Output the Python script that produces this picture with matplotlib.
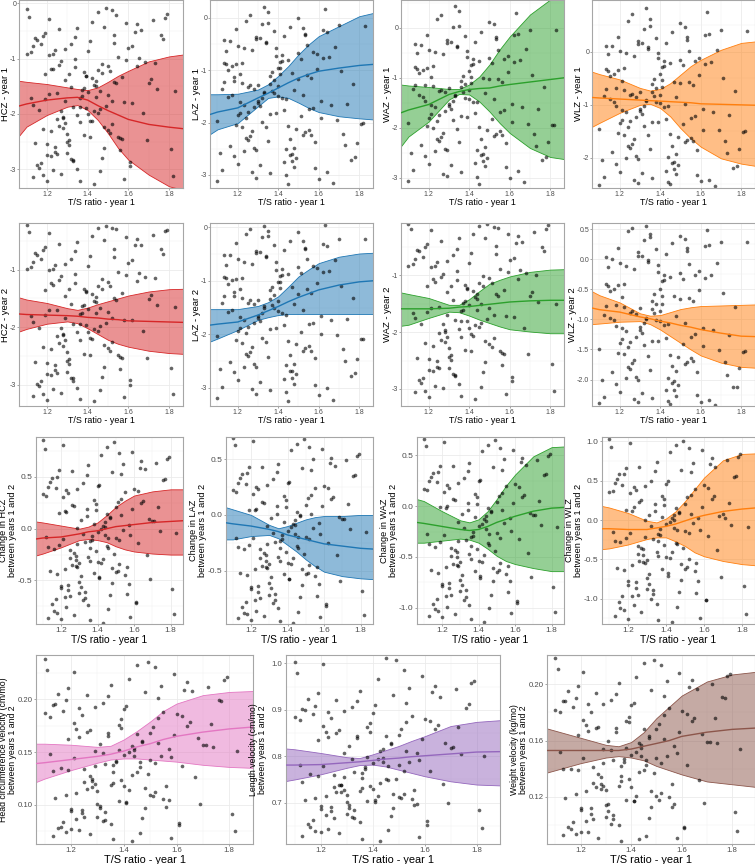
import matplotlib
matplotlib.use("Agg")
import matplotlib.pyplot as plt
from matplotlib import font_manager
from matplotlib.colors import to_rgba
from matplotlib.ticker import AutoMinorLocator, FormatStrFormatter

plt.rcParams['font.family'] = ['Liberation Sans', 'DejaVu Sans']
plt.rcParams['axes.unicode_minus'] = False

# T/S ratio, year 1 (same children in every panel)
ts_ratio = [
    1.12, 1.35, 1.48, 1.22, 1.61, 1.29, 1.43, 1.18, 1.52, 1.74,
    1.27, 1.39, 1.15, 1.56, 1.33, 1.21, 1.47, 1.68, 1.25, 1.41,
    1.10, 1.36, 1.53, 1.19, 1.30, 1.45, 1.79, 1.24, 1.38, 1.58,
    1.14, 1.32, 1.50, 1.23, 1.64, 1.28, 1.44, 1.17, 1.55, 1.37,
    1.26, 1.49, 1.71, 1.20, 1.34, 1.46, 1.13, 1.59, 1.31, 1.42,
    1.83, 1.22, 1.40, 1.51, 1.16, 1.66, 1.29, 1.36, 1.47, 1.24,
    1.11, 1.54, 1.33, 1.62, 1.27, 1.43, 1.19, 1.76, 1.38, 1.50,
    1.21, 1.35, 1.57, 1.30, 1.45, 1.13, 1.69, 1.26, 1.41, 1.52,
    1.18, 1.32, 1.48, 1.81, 1.23, 1.39, 1.60, 1.15, 1.44, 1.28,
    1.53, 1.36, 1.20, 1.65, 1.31, 1.46, 1.72, 1.25, 1.40, 1.12,
    1.55, 1.34, 1.49, 1.22, 1.63, 1.29, 1.42, 1.17, 1.58, 1.37,
    1.27, 1.51, 1.78, 1.19, 1.33, 1.45, 1.14, 1.67, 1.30, 1.43,
    1.24, 1.56, 1.39, 1.10, 1.48, 1.62, 1.26, 1.35, 1.73, 1.21,
    1.41, 1.53, 1.16, 1.32, 1.47, 1.59, 1.28, 1.38, 1.82, 1.23,
    1.44, 1.50, 1.18, 1.64, 1.31, 1.36, 1.54, 1.25, 1.70, 1.40,
    1.13, 1.46, 1.57, 1.20, 1.34, 1.77, 1.29, 1.42, 1.61, 1.52,
]

hcz1 = [
    -1.72, -0.45, -2.61, -1.18, -2.95, -0.83, -1.94, -2.27, -0.12, -1.55,
    -3.08, -1.31, -0.67, -2.44, -1.87, -0.28, -2.79, -1.06, -1.63, -2.12,
    -0.91, -3.21, -1.42, -0.54, -2.36, -1.98, -0.19, -2.68, -1.25, -1.79,
    -2.53, -0.73, -1.14, -3.02, -0.38, -2.05, -1.49, -2.88, -0.97, -1.68,
    -2.21, -0.08, -1.37, -2.74, -0.61, -1.91, -3.15, -1.02, -2.48, -0.33,
    -1.58, -2.31, -0.86, -1.23, -2.97, -0.49, -1.76, -2.15, -1.09, -2.59,
    -0.24, -1.45, -2.83, -0.77, -1.95, -3.26, -1.28, -0.58, -2.39, -1.66,
    -0.94, -2.02, -1.34, -2.71, -0.16, -1.83, -2.47, -1.11, -0.69, -2.18,
    -3.11, -1.52, -0.42, -2.63, -1.19, -1.89, -0.81, -2.92, -1.41, -2.26,
    -0.57, -1.71, -2.55, -0.99, -1.27, -3.04, -0.31, -2.09, -1.61, -0.88,
    -2.42, -1.16, -1.85, -2.77, -0.51, -1.38, -2.13, -0.74, -3.18, -1.57,
    -1.04, -2.34, -0.26, -1.73, -2.86, -1.21, -0.63, -1.99, -2.51, -1.47,
    -0.85, -2.66, -1.32, -0.11, -2.24, -1.81, -0.47, -2.99, -1.08, -1.64,
    -2.41, -0.71, -1.93, -2.81, -1.26, -0.36, -2.07, -1.54, -3.12, -0.92,
    -1.69, -2.29, -0.59, -1.13, -2.57, -1.88, -0.21, -2.72, -1.44, -2.01,
    -0.78, -1.59, -2.46, -3.22, -1.01, -0.65, -2.16, -1.35, -2.87, -1.77,
]
laz1 = [
    -1.35, 0.12, -2.48, -0.87, -1.92, -0.41, -2.76, -1.13, -0.19, -1.64,
    -2.95, -0.72, -1.51, -2.23, 0.21, -1.08, -2.61, -0.55, -1.79, -0.96,
    -3.12, -1.27, -0.33, -2.04, -1.58, -0.81, -2.39, -0.06, -1.44, -2.87,
    -0.63, -1.99, -1.17, -2.55, -0.28, -1.71, -3.01, -0.92, -2.14, -1.39,
    0.05, -2.68, -1.02, -1.86, -0.47, -2.31, -1.22, -0.69, -2.82, -1.53,
    -0.15, -2.09, -1.31, -0.78, -2.44, -1.67, -0.37, -2.97, -1.05, -1.91,
    -2.58, -0.52, -1.43, -0.24, -2.17, -1.76, -0.89, -2.71, -1.19, -0.01,
    -1.61, -2.35, -0.66, -1.28, -3.18, -0.43, -1.95, -2.26, -0.84, -1.48,
    -2.63, -0.11, -1.37, -2.02, -0.58, -1.82, -3.07, -0.99, -1.56, -2.49,
    -0.31, -1.11, -2.79, -0.74, -1.69, -0.18, -2.21, -1.33, -0.95, -2.91,
    -1.74, -0.49, -2.12, -1.25, 0.16, -2.53, -0.82, -1.47, -2.37, -1.03,
    -0.61, -1.88, -2.66, -0.22, -1.41, -2.06, -0.88, -3.15, -1.62, -0.35,
    -2.29, -1.15, -0.57, -1.97, -2.85, -0.76, -1.29, -0.09, -2.42, -1.81,
    -1.07, -2.18, -0.45, -1.54, -2.73, -0.98, -1.36, -0.26, -2.01, -1.66,
    -2.51, -0.68, -1.21, -2.94, -0.39, -1.84, -1.09, -2.33, -0.14, -1.49,
    -0.86, -2.62, -1.72, -0.53, -2.08, -1.26, -3.05, -0.71, -1.59, -2.24,
]
waz1 = [
    -1.21, 0.34, -2.37, -0.76, -1.88, -0.29, -2.69, -1.45, 0.08, -1.62,
    -2.91, -0.58, -1.33, -2.14, 0.45, -0.97, -2.52, -0.41, -1.74, -1.09,
    -3.05, -1.18, -0.17, -1.96, -1.51, -0.66, -2.28, 0.19, -1.39, -2.78,
    -0.49, -1.83, -1.02, -2.46, -0.11, -1.66, -2.97, -0.84, -2.06, -1.27,
    0.27, -2.59, -0.93, -1.79, -0.36, -2.22, -1.14, -0.55, -2.74, -1.48,
    -0.04, -1.99, -1.24, -0.69, -2.33, -1.57, -0.24, -2.88, -0.99, -1.85,
    -2.49, -0.43, -1.36, -0.13, -2.09, -1.69, -0.79, -2.63, -1.12, 0.12,
    -1.53, -2.27, -0.61, -1.19, -3.11, -0.32, -1.91, -2.18, -0.73, -1.42,
    -2.56, 0.02, -1.29, -1.94, -0.47, -1.77, -2.99, -0.89, -1.47, -2.41,
    -0.21, -1.05, -2.71, -0.64, -1.61, -0.07, -2.12, -1.26, -0.86, -2.83,
    -1.67, -0.38, -2.04, -1.16, 0.31, -2.44, -0.71, -1.38, -2.29, -0.95,
    -0.52, -1.81, -2.58, -0.14, -1.34, -1.98, -0.81, -3.08, -1.55, -0.27,
    -2.21, -1.07, -0.46, -1.89, -2.76, -0.67, -1.23, 0.05, -2.35, -1.72,
    -0.98, -2.11, -0.34, -1.46, -2.65, -0.88, -1.28, -0.16, -1.93, -1.58,
    -2.43, -0.59, -1.13, -2.86, -0.28, -1.76, -1.01, -2.25, -0.03, -1.41,
    -0.77, -2.54, -1.64, -0.44, -2.01, -1.17, -2.96, -0.62, -1.52, -2.16,
]
wlz1 = [
    -0.84, 0.62, -1.93, -0.31, -1.47, 0.15, -2.24, -1.02, 0.47, -1.19,
    -2.41, -0.12, -0.89, -1.68, 0.83, -0.55, -2.07, 0.04, -1.31, -0.66,
    -2.52, -0.76, 0.28, -1.53, -1.07, -0.21, -1.84, 0.58, -0.95, -2.33,
    -0.04, -1.39, -0.59, -2.01, 0.33, -1.23, -2.46, -0.41, -1.62, -0.83,
    0.71, -2.14, -0.49, -1.35, 0.09, -1.78, -0.71, -0.11, -2.29, -1.04,
    0.39, -1.56, -0.81, -0.25, -1.89, -1.13, 0.21, -2.38, -0.56, -1.42,
    -2.04, 0.01, -0.92, 0.32, -1.65, -1.26, -0.35, -2.19, -0.68, 0.55,
    -1.09, -1.83, -0.17, -0.75, -2.49, 0.12, -1.48, -1.74, -0.29, -0.99,
    -2.12, 0.44, -0.86, -1.51, -0.03, -1.33, -2.43, -0.45, -1.03, -1.97,
    0.23, -0.61, -2.27, -0.19, -1.18, 0.37, -1.69, -0.82, -0.42, -2.36,
    -1.24, 0.06, -1.61, -0.72, 0.76, -2.02, -0.27, -0.94, -1.86, -0.51,
    -0.08, -1.37, -2.15, 0.29, -0.91, -1.55, -0.37, -2.54, -1.11, 0.17,
    -1.77, -0.63, -0.02, -1.45, -2.31, -0.23, -0.79, 0.49, -1.91, -1.28,
    -0.54, -1.67, 0.11, -1.02, -2.21, -0.44, -0.85, 0.26, -1.49, -1.14,
    -1.99, -0.15, -0.69, -2.42, 0.16, -1.32, -0.57, -1.81, 0.42, -0.97,
    -0.33, -2.09, -1.21, 0.02, -1.57, -0.73, -2.47, -0.18, -1.08, -1.71,
]
hcz2 = [
    -1.81, -0.52, -2.69, -1.24, -3.01, -0.91, -2.03, -2.35, -0.28, -1.62,
    -3.14, -1.39, -0.74, -2.51, -1.95, -0.37, -2.86, -1.13, -1.71, -2.19,
    -0.99, -3.25, -1.49, -0.61, -2.43, -2.06, -0.31, -2.75, -1.33, -1.87,
    -2.61, -0.81, -1.21, -3.07, -0.47, -2.12, -1.56, -2.94, -1.04, -1.76,
    -2.28, -0.25, -1.44, -2.81, -0.68, -1.98, -3.19, -1.09, -2.55, -0.42,
    -1.65, -2.38, -0.93, -1.29, -3.03, -0.57, -1.84, -2.22, -1.16, -2.66,
    -0.34, -1.52, -2.89, -0.84, -2.01, -3.28, -1.35, -0.65, -2.46, -1.73,
    -1.01, -2.09, -1.41, -2.78, -0.27, -1.91, -2.54, -1.18, -0.77, -2.25,
    -3.16, -1.59, -0.49, -2.71, -1.26, -1.96, -0.88, -2.99, -1.48, -2.33,
    -0.64, -1.78, -2.62, -1.06, -1.34, -3.09, -0.39, -2.16, -1.68, -0.95,
    -2.49, -1.23, -1.92, -2.84, -0.58, -1.45, -2.21, -0.82, -3.22, -1.64,
    -1.11, -2.41, -0.33, -1.79, -2.93, -1.28, -0.71, -2.07, -2.58, -1.54,
    -0.92, -2.73, -1.38, -0.22, -2.31, -1.88, -0.55, -3.05, -1.15, -1.71,
    -2.48, -0.78, -2.01, -2.88, -1.33, -0.44, -2.14, -1.61, -3.17, -0.99,
    -1.76, -2.36, -0.66, -1.19, -2.64, -1.94, -0.29, -2.79, -1.51, -2.08,
    -0.86, -1.66, -2.53, -3.27, -1.08, -0.73, -2.23, -1.42, -2.92, -1.84,
]
laz2 = [
    -1.42, -0.07, -2.55, -0.94, -1.99, -0.48, -2.83, -1.21, -0.26, -1.71,
    -3.02, -0.79, -1.58, -2.31, 0.02, -1.15, -2.68, -0.62, -1.86, -1.03,
    -3.19, -1.34, -0.41, -2.11, -1.65, -0.88, -2.46, -0.13, -1.51, -2.94,
    -0.71, -2.06, -1.24, -2.62, -0.35, -1.78, -3.08, -0.99, -2.21, -1.46,
    -0.04, -2.75, -1.09, -1.93, -0.54, -2.38, -1.29, -0.76, -2.89, -1.61,
    -0.22, -2.16, -1.38, -0.85, -2.51, -1.74, -0.44, -3.04, -1.12, -1.98,
    -2.65, -0.59, -1.51, -0.31, -2.24, -1.83, -0.96, -2.78, -1.26, -0.09,
    -1.68, -2.42, -0.73, -1.35, -3.25, -0.51, -2.02, -2.33, -0.91, -1.55,
    -2.71, -0.18, -1.44, -2.09, -0.65, -1.89, -3.14, -1.06, -1.63, -2.56,
    -0.38, -1.18, -2.86, -0.81, -1.76, -0.25, -2.28, -1.41, -1.02, -2.98,
    -1.81, -0.56, -2.19, -1.32, 0.04, -2.61, -0.89, -1.54, -2.44, -1.11,
    -0.68, -1.95, -2.73, -0.29, -1.48, -2.13, -0.95, -3.22, -1.69, -0.42,
    -2.36, -1.22, -0.64, -2.04, -2.92, -0.83, -1.36, -0.16, -2.49, -1.88,
    -1.14, -2.25, -0.52, -1.61, -2.81, -1.05, -1.43, -0.33, -2.08, -1.73,
    -2.58, -0.75, -1.28, -3.01, -0.46, -1.91, -1.16, -2.41, -0.21, -1.56,
    -0.93, -2.69, -1.79, -0.60, -2.15, -1.33, -3.12, -0.78, -1.66, -2.31,
]
waz2 = [
    -1.66, -0.35, -2.52, -1.07, -2.86, -0.74, -1.88, -2.19, -0.15, -1.47,
    -2.99, -1.22, -0.58, -2.36, -1.79, -0.21, -2.71, -0.96, -1.55, -2.04,
    -0.83, -3.12, -1.33, -0.45, -2.28, -1.91, -0.12, -2.61, -1.17, -1.72,
    -2.46, -0.65, -1.05, -2.94, -0.31, -1.97, -1.41, -2.81, -0.89, -1.61,
    -2.13, -0.10, -1.29, -2.67, -0.53, -1.84, -3.06, -0.94, -2.41, -0.27,
    -1.51, -2.24, -0.78, -1.14, -2.89, -0.41, -1.69, -2.08, -1.01, -2.51,
    -0.18, -1.37, -2.76, -0.69, -1.86, -3.18, -1.19, -0.50, -2.32, -1.58,
    -0.86, -1.94, -1.26, -2.63, -0.13, -1.76, -2.39, -1.03, -0.61, -2.11,
    -3.03, -1.44, -0.34, -2.56, -1.11, -1.81, -0.73, -2.84, -1.33, -2.18,
    -0.49, -1.63, -2.47, -0.91, -1.19, -2.97, -0.24, -2.01, -1.53, -0.80,
    -2.34, -1.08, -1.77, -2.69, -0.43, -1.30, -2.06, -0.67, -3.09, -1.49,
    -0.97, -2.26, -0.19, -1.64, -2.78, -1.13, -0.56, -1.92, -2.43, -1.39,
    -0.77, -2.58, -1.24, -0.09, -2.16, -1.73, -0.39, -2.91, -1.00, -1.57,
    -2.33, -0.63, -1.86, -2.73, -1.18, -0.28, -1.99, -1.46, -3.04, -0.84,
    -1.61, -2.21, -0.51, -1.06, -2.49, -1.80, -0.16, -2.64, -1.36, -1.93,
    -0.71, -1.51, -2.38, -3.14, -0.93, -0.57, -2.09, -1.27, -2.79, -1.69,
]
wlz2 = [
    -0.93, 0.41, -1.86, -0.42, -1.44, 0.05, -2.17, -1.11, 0.33, -1.26,
    -2.33, -0.21, -0.97, -1.69, 0.55, -0.63, -2.02, -0.06, -1.37, -0.74,
    -2.39, -0.83, 0.18, -1.56, -1.13, -0.29, -1.81, 0.47, -1.01, -2.26,
    -0.13, -1.43, -0.67, -1.98, 0.24, -1.29, -2.36, -0.49, -1.64, -0.89,
    0.52, -2.09, -0.57, -1.39, -0.01, -1.77, -0.78, -0.19, -2.22, -1.09,
    0.29, -1.58, -0.87, -0.33, -1.88, -1.17, 0.12, -2.31, -0.62, -1.46,
    -2.01, -0.08, -0.99, 0.22, -1.67, -1.31, -0.43, -2.13, -0.74, 0.38,
    -1.14, -1.84, -0.26, -0.82, -2.41, 0.03, -1.51, -1.73, -0.37, -1.06,
    -2.08, 0.31, -0.94, -1.54, -0.11, -1.36, -2.37, -0.53, -1.08, -1.96,
    0.14, -0.69, -2.21, -0.27, -1.23, 0.26, -1.71, -0.89, -0.49, -2.29,
    -1.29, -0.04, -1.63, -0.79, 0.49, -2.01, -0.35, -1.01, -1.87, -0.58,
    -0.16, -1.41, -2.12, 0.19, -0.98, -1.59, -0.45, -2.42, -1.17, 0.08,
    -1.79, -0.69, -0.09, -1.49, -2.27, -0.31, -0.86, 0.36, -1.92, -1.32,
    -0.61, -1.71, 0.01, -1.06, -2.18, -0.52, -0.91, 0.16, -1.53, -1.19,
    -1.97, -0.23, -0.76, -2.34, 0.06, -1.36, -0.64, -1.83, 0.28, -1.03,
    -0.41, -2.06, -1.25, -0.07, -1.61, -0.79, -2.38, -0.26, -1.15, -1.74,
]
d_hcz = [
    -0.08, 0.61, -0.52, 0.17, -0.71, 0.38, -0.29, -0.44, 0.73, -0.02,
    -0.83, 0.24, 0.49, -0.37, -0.13, 0.81, -0.64, 0.09, -0.21, -0.48,
    0.33, -0.88, 0.13, 0.57, -0.33, -0.17, 0.69, -0.59, 0.28, -0.06,
    -0.41, 0.44, 0.21, -0.76, 0.65, -0.26, 0.02, -0.68, 0.35, -0.11,
    -0.35, 0.84, 0.07, -0.57, 0.52, -0.19, -0.86, 0.19, -0.46, 0.71,
    -0.04, -0.39, 0.41, 0.26, -0.79, 0.58, -0.15, -0.31, 0.11, -0.54,
    0.77, -0.01, -0.67, 0.36, -0.23, -0.91, 0.15, 0.47, -0.43, -0.09,
    0.31, -0.27, 0.04, -0.62, 0.79, -0.18, -0.49, 0.23, 0.42, -0.34,
    -0.81, -0.05, 0.55, -0.58, 0.16, -0.22, 0.38, -0.73, 0.06, -0.36,
    0.53, -0.12, -0.55, 0.27, 0.08, -0.78, 0.63, -0.28, -0.03, 0.32,
    -0.45, 0.12, -0.24, -0.66, 0.59, 0.01, -0.33, 0.39, -0.85, -0.07,
    0.22, -0.41, 0.67, -0.16, -0.61, 0.14, 0.45, -0.25, -0.51, 0.03,
    0.34, -0.63, 0.18, 0.86, -0.38, -0.14, 0.56, -0.74, 0.21, -0.10,
    -0.47, 0.29, -0.20, -0.69, 0.10, 0.74, -0.30, 0.05, -0.82, 0.37,
    -0.06, -0.42, 0.50, 0.25, -0.56, -0.19, 0.62, -0.65, 0.07, -0.32,
    0.40, -0.09, -0.53, -0.87, 0.19, 0.48, -0.37, 0.00, -0.72, -0.11,
]
d_laz = [
    -0.21, 0.46, -0.63, 0.04, -0.82, 0.27, -0.39, -0.54, 0.61, -0.13,
    -0.91, 0.13, 0.37, -0.47, -0.24, 0.66, -0.74, -0.02, -0.31, -0.58,
    0.22, -0.95, 0.01, 0.43, -0.44, -0.28, 0.55, -0.69, 0.17, -0.17,
    -0.52, 0.32, 0.09, -0.86, 0.51, -0.36, -0.09, -0.78, 0.24, -0.22,
    -0.46, 0.68, -0.04, -0.67, 0.39, -0.30, -0.93, 0.08, -0.56, 0.58,
    -0.15, -0.49, 0.29, 0.15, -0.88, 0.44, -0.26, -0.41, 0.00, -0.64,
    0.63, -0.12, -0.76, 0.24, -0.34, -0.97, 0.04, 0.35, -0.53, -0.20,
    0.19, -0.38, -0.07, -0.72, 0.64, -0.29, -0.59, 0.12, 0.30, -0.45,
    -0.89, -0.16, 0.42, -0.68, 0.05, -0.33, 0.26, -0.83, -0.05, -0.47,
    0.40, -0.23, -0.65, 0.16, -0.03, -0.87, 0.49, -0.39, -0.14, 0.21,
    -0.55, 0.01, -0.35, -0.76, 0.47, -0.10, -0.44, 0.28, -0.92, -0.18,
    0.11, -0.52, 0.53, -0.27, -0.71, 0.03, 0.33, -0.36, -0.61, -0.08,
    0.23, -0.73, 0.07, 0.69, -0.49, -0.25, 0.43, -0.84, 0.10, -0.21,
    -0.58, 0.18, -0.31, -0.79, -0.01, 0.59, -0.41, -0.06, -0.90, 0.25,
    -0.17, -0.53, 0.38, 0.14, -0.66, -0.30, 0.50, -0.75, -0.04, -0.43,
    0.29, -0.20, -0.62, -0.94, 0.08, 0.36, -0.48, -0.11, -0.80, -0.22,
]
d_waz = [
    -0.27, 0.42, -0.74, -0.02, -0.95, 0.23, -0.48, -0.66, 0.57, -0.19,
    -1.06, 0.09, 0.33, -0.59, -0.33, 0.63, -0.87, -0.07, -0.41, -0.71,
    0.17, -1.11, -0.04, 0.39, -0.55, -0.36, 0.51, -0.81, 0.12, -0.24,
    -0.63, 0.28, 0.04, -0.99, 0.47, -0.45, -0.15, -0.91, 0.20, -0.29,
    -0.57, 0.65, -0.09, -0.79, 0.35, -0.38, -1.08, 0.03, -0.68, 0.54,
    -0.21, -0.60, 0.25, 0.10, -1.01, 0.40, -0.34, -0.52, -0.05, -0.76,
    0.59, -0.17, -0.89, 0.19, -0.43, -1.14, -0.01, 0.31, -0.64, -0.26,
    0.14, -0.47, -0.12, -0.84, 0.60, -0.37, -0.70, 0.07, 0.26, -0.56,
    -1.03, -0.22, 0.38, -0.80, 0.00, -0.42, 0.22, -0.96, -0.10, -0.58,
    0.36, -0.30, -0.77, 0.11, -0.08, -1.00, 0.45, -0.49, -0.20, 0.16,
    -0.67, -0.04, -0.44, -0.88, 0.43, -0.16, -0.55, 0.24, -1.05, -0.25,
    0.06, -0.63, 0.49, -0.35, -0.83, -0.02, 0.29, -0.46, -0.73, -0.13,
    0.18, -0.85, 0.02, 0.66, -0.61, -0.32, 0.39, -0.97, 0.05, -0.28,
    -0.69, 0.13, -0.40, -0.92, -0.06, 0.55, -0.50, -0.11, -1.04, 0.21,
    -0.23, -0.65, 0.34, 0.09, -0.78, -0.39, 0.46, -0.87, -0.09, -0.54,
    0.25, -0.27, -0.74, -1.09, 0.03, 0.32, -0.59, -0.18, -0.93, -0.31,
]
d_wlz = [
    -0.15, 0.74, -0.76, 0.12, -1.02, 0.43, -0.41, -0.63, 0.91, -0.06,
    -1.17, 0.27, 0.58, -0.54, -0.24, 0.98, -0.91, 0.05, -0.33, -0.71,
    0.36, -1.27, 0.08, 0.66, -0.51, -0.29, 0.84, -0.86, 0.31, -0.12,
    -0.61, 0.49, 0.20, -1.08, 0.79, -0.37, 0.00, -0.97, 0.39, -0.19,
    -0.52, 1.01, 0.03, -0.82, 0.62, -0.30, -1.22, 0.16, -0.69, 0.87,
    -0.09, -0.57, 0.46, 0.29, -1.12, 0.68, -0.22, -0.46, 0.09, -0.79,
    0.93, -0.04, -0.94, 0.41, -0.35, -1.29, 0.13, 0.55, -0.62, -0.14,
    0.34, -0.40, 0.02, -0.88, 0.95, -0.26, -0.72, 0.23, 0.49, -0.50,
    -1.14, -0.08, 0.64, -0.84, 0.17, -0.32, 0.44, -1.04, 0.06, -0.53,
    0.61, -0.18, -0.78, 0.30, 0.07, -1.10, 0.76, -0.43, -0.05, 0.37,
    -0.65, 0.11, -0.36, -0.96, 0.71, 0.00, -0.48, 0.45, -1.24, -0.11,
    0.25, -0.60, 0.80, -0.23, -0.89, 0.15, 0.52, -0.38, -0.74, 0.02,
    0.38, -0.92, 0.19, 1.03, -0.56, -0.20, 0.67, -1.06, 0.22, -0.16,
    -0.67, 0.32, -0.28, -1.00, 0.10, 0.89, -0.44, 0.04, -1.19, 0.42,
    -0.10, -0.62, 0.58, 0.27, -0.81, -0.27, 0.73, -0.95, 0.08, -0.47,
    0.47, -0.13, -0.77, -1.26, 0.21, 0.56, -0.55, -0.02, -1.01, -0.17,
]
hc_vel = [
    0.148, 0.214, 0.097, 0.172, 0.081, 0.193, 0.128, 0.109, 0.231, 0.155,
    0.072, 0.181, 0.205, 0.118, 0.139, 0.226, 0.088, 0.163, 0.134, 0.102,
    0.187, 0.068, 0.159, 0.211, 0.113, 0.131, 0.221, 0.092, 0.176, 0.145,
    0.107, 0.197, 0.168, 0.076, 0.216, 0.125, 0.152, 0.084, 0.188, 0.141,
    0.115, 0.235, 0.157, 0.094, 0.203, 0.136, 0.071, 0.166, 0.099, 0.219,
    0.151, 0.111, 0.191, 0.174, 0.079, 0.208, 0.137, 0.121, 0.161, 0.095,
    0.228, 0.146, 0.086, 0.184, 0.127, 0.066, 0.162, 0.199, 0.104, 0.143,
    0.178, 0.119, 0.153, 0.089, 0.233, 0.132, 0.101, 0.169, 0.194, 0.112,
    0.074, 0.149, 0.207, 0.091, 0.164, 0.124, 0.186, 0.078, 0.154, 0.117,
    0.201, 0.138, 0.096, 0.179, 0.158, 0.073, 0.212, 0.122, 0.147, 0.183,
    0.106, 0.165, 0.129, 0.087, 0.209, 0.151, 0.114, 0.189, 0.069, 0.142,
    0.171, 0.108, 0.218, 0.133, 0.093, 0.167, 0.196, 0.126, 0.101, 0.156,
    0.185, 0.098, 0.173, 0.238, 0.116, 0.137, 0.204, 0.082, 0.177, 0.144,
    0.103, 0.182, 0.135, 0.085, 0.160, 0.224, 0.123, 0.152, 0.075, 0.192,
    0.146, 0.109, 0.199, 0.175, 0.097, 0.131, 0.213, 0.089, 0.157, 0.118,
    0.195, 0.141, 0.105, 0.077, 0.168, 0.198, 0.120, 0.150, 0.083, 0.140,
]
len_vel = [
    0.782, 0.941, 0.688, 0.853, 0.651, 0.897, 0.742, 0.709, 0.985, 0.804,
    0.634, 0.871, 0.924, 0.728, 0.766, 0.998, 0.672, 0.829, 0.759, 0.701,
    0.884, 0.621, 0.812, 0.936, 0.717, 0.752, 0.962, 0.681, 0.862, 0.791,
    0.706, 0.906, 0.846, 0.643, 0.951, 0.737, 0.797, 0.663, 0.887, 0.776,
    0.722, 1.007, 0.819, 0.687, 0.918, 0.748, 0.629, 0.838, 0.696, 0.966,
    0.801, 0.714, 0.894, 0.858, 0.647, 0.928, 0.756, 0.731, 0.826, 0.691,
    0.979, 0.788, 0.668, 0.876, 0.739, 0.618, 0.834, 0.903, 0.704, 0.781,
    0.866, 0.726, 0.808, 0.676, 1.012, 0.745, 0.699, 0.849, 0.911, 0.719,
    0.639, 0.793, 0.932, 0.684, 0.841, 0.735, 0.881, 0.655, 0.816, 0.724,
    0.914, 0.763, 0.693, 0.868, 0.822, 0.641, 0.945, 0.733, 0.786, 0.877,
    0.708, 0.839, 0.751, 0.673, 0.938, 0.806, 0.715, 0.891, 0.626, 0.772,
    0.856, 0.711, 0.958, 0.757, 0.685, 0.844, 0.899, 0.741, 0.702, 0.811,
    0.882, 0.694, 0.852, 1.003, 0.719, 0.768, 0.921, 0.659, 0.864, 0.779,
    0.705, 0.873, 0.761, 0.669, 0.828, 0.973, 0.738, 0.799, 0.645, 0.896,
    0.787, 0.713, 0.909, 0.859, 0.689, 0.754, 0.948, 0.666, 0.818, 0.729,
    0.901, 0.778, 0.698, 0.637, 0.843, 0.913, 0.727, 0.795, 0.661, 0.769,
]
wt_vel = [
    0.152, 0.201, 0.113, 0.171, 0.098, 0.186, 0.138, 0.122, 0.214, 0.158,
    0.091, 0.177, 0.195, 0.129, 0.146, 0.209, 0.105, 0.165, 0.141, 0.117,
    0.182, 0.089, 0.161, 0.199, 0.125, 0.139, 0.207, 0.108, 0.174, 0.151,
    0.119, 0.189, 0.168, 0.095, 0.203, 0.134, 0.155, 0.102, 0.183, 0.147,
    0.127, 0.217, 0.159, 0.111, 0.193, 0.143, 0.093, 0.166, 0.115, 0.205,
    0.154, 0.124, 0.185, 0.172, 0.097, 0.197, 0.144, 0.131, 0.163, 0.112,
    0.211, 0.149, 0.104, 0.179, 0.136, 0.090, 0.164, 0.191, 0.118, 0.148,
    0.175, 0.128, 0.156, 0.106, 0.215, 0.140, 0.116, 0.169, 0.187, 0.123,
    0.094, 0.153, 0.196, 0.109, 0.167, 0.133, 0.181, 0.099, 0.157, 0.126,
    0.192, 0.142, 0.112, 0.176, 0.160, 0.092, 0.200, 0.130, 0.150, 0.180,
    0.120, 0.166, 0.137, 0.103, 0.198, 0.154, 0.121, 0.184, 0.091, 0.145,
    0.170, 0.118, 0.206, 0.139, 0.107, 0.168, 0.188, 0.132, 0.114, 0.158,
    0.180, 0.113, 0.173, 0.219, 0.124, 0.143, 0.194, 0.100, 0.176, 0.148,
    0.117, 0.178, 0.140, 0.101, 0.162, 0.208, 0.129, 0.155, 0.096, 0.186,
    0.149, 0.121, 0.190, 0.174, 0.110, 0.135, 0.202, 0.104, 0.159, 0.127,
    0.188, 0.146, 0.115, 0.095, 0.169, 0.190, 0.128, 0.152, 0.099, 0.144,
]

# smoothed fit with confidence band, read at these T/S ratios
fit_x = [1.06, 1.10, 1.20, 1.30, 1.35, 1.40, 1.45, 1.50, 1.55, 1.60, 1.70, 1.80, 1.90]

hcz1_fit = [-1.86, -1.82, -1.75, -1.71, -1.70, -1.75, -1.85, -1.94, -2.02, -2.10, -2.19, -2.24, -2.28]
hcz1_hi = [-1.40, -1.42, -1.46, -1.52, -1.55, -1.57, -1.52, -1.42, -1.31, -1.22, -1.05, -0.96, -0.91]
hcz1_lo = [-2.41, -2.23, -2.02, -1.87, -1.84, -1.93, -2.11, -2.35, -2.62, -2.83, -3.10, -3.31, -3.40]
laz1_fit = [-1.85, -1.80, -1.72, -1.53, -1.44, -1.34, -1.24, -1.15, -1.08, -1.02, -0.96, -0.91, -0.88]
laz1_hi = [-1.46, -1.46, -1.45, -1.37, -1.27, -1.11, -0.92, -0.70, -0.51, -0.35, -0.16, 0.03, 0.12]
laz1_lo = [-2.23, -2.13, -2.01, -1.69, -1.53, -1.50, -1.53, -1.62, -1.72, -1.80, -1.88, -1.92, -1.95]
waz1_fit = [-1.70, -1.64, -1.53, -1.33, -1.27, -1.23, -1.21, -1.20, -1.16, -1.13, -1.08, -1.03, -0.98]
waz1_hi = [-1.13, -1.15, -1.18, -1.22, -1.22, -1.13, -0.97, -0.73, -0.43, -0.17, 0.27, 0.57, 0.80]
waz1_lo = [-2.38, -2.17, -1.87, -1.43, -1.32, -1.33, -1.47, -1.67, -1.90, -2.10, -2.40, -2.58, -2.64]
wlz1_fit = [-0.86, -0.87, -0.89, -0.91, -0.92, -0.93, -0.94, -0.95, -0.96, -0.98, -0.99, -1.00, -1.01]
wlz1_hi = [-0.37, -0.42, -0.52, -0.68, -0.73, -0.70, -0.59, -0.43, -0.27, -0.15, 0.04, 0.17, 0.21]
wlz1_lo = [-1.42, -1.34, -1.15, -1.00, -0.98, -1.06, -1.22, -1.44, -1.63, -1.79, -2.01, -2.11, -2.17]
hcz2_fit = [-1.77, -1.78, -1.79, -1.80, -1.81, -1.83, -1.84, -1.86, -1.87, -1.89, -1.90, -1.91, -1.92]
hcz2_hi = [-1.48, -1.52, -1.58, -1.67, -1.70, -1.66, -1.60, -1.55, -1.50, -1.45, -1.38, -1.34, -1.33]
hcz2_lo = [-2.08, -2.03, -1.94, -1.90, -1.93, -2.02, -2.12, -2.22, -2.29, -2.34, -2.41, -2.45, -2.47]
laz2_fit = [-1.83, -1.81, -1.77, -1.64, -1.56, -1.48, -1.39, -1.31, -1.24, -1.17, -1.08, -1.02, -0.99]
laz2_hi = [-1.53, -1.53, -1.53, -1.47, -1.40, -1.29, -1.11, -0.92, -0.79, -0.67, -0.55, -0.49, -0.47]
laz2_lo = [-2.14, -2.08, -1.92, -1.73, -1.68, -1.64, -1.62, -1.62, -1.62, -1.62, -1.62, -1.62, -1.62]
waz2_fit = [-1.59, -1.59, -1.59, -1.58, -1.56, -1.55, -1.53, -1.51, -1.49, -1.47, -1.45, -1.44, -1.44]
waz2_hi = [-1.30, -1.33, -1.40, -1.52, -1.52, -1.42, -1.28, -1.15, -1.08, -1.02, -0.94, -0.90, -0.89]
waz2_lo = [-1.89, -1.87, -1.75, -1.64, -1.65, -1.71, -1.78, -1.84, -1.90, -1.95, -1.99, -2.02, -2.02]
wlz2_fit = [-0.81, -0.84, -0.88, -0.96, -0.99, -1.03, -1.06, -1.10, -1.13, -1.17, -1.23, -1.28, -1.29]
wlz2_hi = [-0.53, -0.60, -0.72, -0.90, -0.94, -0.93, -0.88, -0.83, -0.80, -0.78, -0.77, -0.76, -0.75]
wlz2_lo = [-1.08, -1.07, -1.04, -1.03, -1.08, -1.17, -1.28, -1.39, -1.50, -1.60, -1.72, -1.79, -1.81]
d_hcz_fit = [-0.10, -0.09, -0.08, -0.05, -0.03, -0.02, 0.00, 0.02, 0.03, 0.04, 0.06, 0.07, 0.08]
d_hcz_hi = [0.07, 0.06, 0.03, 0.00, 0.02, 0.06, 0.13, 0.21, 0.27, 0.32, 0.36, 0.38, 0.38]
d_hcz_lo = [-0.26, -0.24, -0.18, -0.11, -0.10, -0.11, -0.13, -0.17, -0.20, -0.22, -0.24, -0.25, -0.25]
d_laz_fit = [-0.07, -0.08, -0.10, -0.13, -0.15, -0.18, -0.20, -0.22, -0.24, -0.26, -0.28, -0.30, -0.31]
d_laz_hi = [0.07, 0.05, 0.00, -0.09, -0.12, -0.10, -0.07, -0.04, -0.02, -0.01, -0.01, 0.00, 0.00]
d_laz_lo = [-0.22, -0.22, -0.19, -0.18, -0.21, -0.27, -0.33, -0.40, -0.46, -0.51, -0.55, -0.57, -0.58]
d_waz_fit = [-0.16, -0.17, -0.20, -0.23, -0.24, -0.23, -0.20, -0.16, -0.13, -0.10, -0.05, -0.02, -0.01]
d_waz_hi = [0.07, 0.05, -0.05, -0.14, -0.16, -0.13, -0.05, 0.07, 0.20, 0.31, 0.49, 0.58, 0.59]
d_waz_lo = [-0.36, -0.36, -0.34, -0.32, -0.33, -0.36, -0.42, -0.49, -0.54, -0.57, -0.61, -0.64, -0.64]
d_wlz_fit = [-0.11, -0.11, -0.12, -0.12, -0.10, -0.08, -0.05, -0.01, 0.03, 0.06, 0.11, 0.14, 0.16]
d_wlz_hi = [0.18, 0.16, 0.09, -0.01, -0.03, 0.02, 0.11, 0.24, 0.39, 0.54, 0.76, 0.84, 0.85]
d_wlz_lo = [-0.37, -0.36, -0.31, -0.24, -0.22, -0.22, -0.27, -0.33, -0.41, -0.46, -0.52, -0.56, -0.58]
hc_vel_fit = [0.139, 0.140, 0.143, 0.146, 0.148, 0.151, 0.155, 0.158, 0.162, 0.165, 0.169, 0.172, 0.174]
hc_vel_hi = [0.158, 0.158, 0.157, 0.155, 0.156, 0.162, 0.170, 0.179, 0.189, 0.196, 0.204, 0.207, 0.208]
hc_vel_lo = [0.121, 0.125, 0.133, 0.140, 0.143, 0.144, 0.144, 0.143, 0.142, 0.141, 0.138, 0.136, 0.135]
len_vel_fit = [0.781, 0.781, 0.782, 0.786, 0.788, 0.791, 0.794, 0.796, 0.799, 0.801, 0.805, 0.809, 0.810]
len_vel_hi = [0.817, 0.815, 0.807, 0.798, 0.796, 0.804, 0.813, 0.822, 0.833, 0.843, 0.865, 0.874, 0.878]
len_vel_lo = [0.746, 0.750, 0.761, 0.775, 0.781, 0.782, 0.778, 0.771, 0.764, 0.757, 0.746, 0.739, 0.737]
wt_vel_fit = [0.153, 0.153, 0.153, 0.153, 0.153, 0.154, 0.156, 0.158, 0.160, 0.163, 0.166, 0.168, 0.169]
wt_vel_hi = [0.169, 0.167, 0.162, 0.157, 0.156, 0.159, 0.166, 0.176, 0.184, 0.192, 0.202, 0.207, 0.209]
wt_vel_lo = [0.137, 0.139, 0.144, 0.148, 0.149, 0.148, 0.146, 0.142, 0.139, 0.136, 0.131, 0.129, 0.127]

RED, BLUE, GREEN, ORANGE = '#d62728', '#1f77b4', '#2ca02c', '#ff7f0e'
PINK, PURPLE, BROWN = '#e377c2', '#9467bd', '#8c564b'
BETWEEN = '\nbetween years 1 and 2'

# (box in pixels: left, top, right, bottom), y data, fit, lo, hi, colour, label, ylim, yticks, tick format
panels = [
    ((19, 0, 183, 188), hcz1, hcz1_fit, hcz1_lo, hcz1_hi, RED, 'HCZ - year 1', (-3.34, 0.06), [-3, -2, -1, 0], '%g'),
    ((210, 0, 373, 188), laz1, laz1_fit, laz1_lo, laz1_hi, BLUE, 'LAZ - year 1', (-3.25, 0.34), [-3, -2, -1, 0], '%g'),
    ((401, 0, 564, 188), waz1, waz1_fit, waz1_lo, waz1_hi, GREEN, 'WAZ - year 1', (-3.2, 0.56), [-3, -2, -1, 0], '%g'),
    ((592, 0, 755, 188), wlz1, wlz1_fit, wlz1_lo, wlz1_hi, ORANGE, 'WLZ - year 1', (-2.57, 0.98), [-2, -1, 0], '%g'),
    ((19, 223, 183, 406), hcz2, hcz2_fit, hcz2_lo, hcz2_hi, RED, 'HCZ - year 2', (-3.37, -0.19), [-3, -2, -1], '%g'),
    ((210, 223, 373, 406), laz2, laz2_fit, laz2_lo, laz2_hi, BLUE, 'LAZ - year 2', (-3.34, 0.08), [-3, -2, -1, 0], '%g'),
    ((401, 223, 564, 406), waz2, waz2_fit, waz2_lo, waz2_hi, GREEN, 'WAZ - year 2', (-3.3, -0.08), [-3, -2, -1], '%g'),
    ((592, 223, 755, 406), wlz2, wlz2_fit, wlz2_lo, wlz2_hi, ORANGE, 'WLZ - year 2', (-2.44, 0.6),
     [-2, -1.5, -1, -0.5, 0, 0.5], '%.1f'),
    ((36, 437, 183, 624), d_hcz, d_hcz_fit, d_hcz_lo, d_hcz_hi, RED, 'Change in HCZ' + BETWEEN, (-0.92, 0.885),
     [-0.5, 0, 0.5], '%.1f'),
    ((226, 437, 373, 624), d_laz, d_laz_fit, d_laz_lo, d_laz_hi, BLUE, 'Change in LAZ' + BETWEEN, (-0.98, 0.70),
     [-0.5, 0, 0.5], '%.1f'),
    ((417, 437, 564, 624), d_waz, d_waz_fit, d_waz_lo, d_waz_hi, GREEN, 'Change in WAZ' + BETWEEN, (-1.16, 0.68),
     [-1, -0.5, 0, 0.5], '%.1f'),
    ((602, 437, 755, 624), d_wlz, d_wlz_fit, d_wlz_lo, d_wlz_hi, ORANGE, 'Change in WLZ' + BETWEEN, (-1.32, 1.055),
     [-1, -0.5, 0, 0.5, 1], '%.1f'),
    ((36, 655, 253, 844), hc_vel, hc_vel_fit, hc_vel_lo, hc_vel_hi, PINK,
     'Head circumference velocity (cm/mo)' + BETWEEN, (0.063, 0.242), [0.10, 0.15, 0.20], '%.2f'),
    ((286, 655, 500, 844), len_vel, len_vel_fit, len_vel_lo, len_vel_hi, PURPLE,
     'Length velocity (cm/mo)' + BETWEEN, (0.611, 1.018), [0.7, 0.8, 0.9, 1.0], '%.1f'),
    ((547, 655, 755, 844), wt_vel, wt_vel_fit, wt_vel_lo, wt_vel_hi, BROWN,
     'Weight velocity (kg/mo)' + BETWEEN, (0.0866, 0.2208), [0.12, 0.16, 0.20], '%.2f'),
]

# the rows of the original were squeezed by different amounts, so text sizes differ per row
fonts = {f.name for f in font_manager.fontManager.ttflist}
if 'Liberation Sans Narrow' in fonts:
    narrow, narrow_x, narrow_tick = 'Liberation Sans Narrow', 7.8, 6.0
else:
    narrow, narrow_x, narrow_tick = 'Liberation Sans', 6.4, 5.0
row_text = {
    0: dict(xfam=narrow, xsize=narrow_x, tsize=narrow_tick, ysize=6.8, gap=None, pad=0.5),
    1: dict(xfam=narrow, xsize=narrow_x, tsize=narrow_tick, ysize=6.8, gap=None, pad=0.5),
    2: dict(xfam='Liberation Sans', xsize=7.4, tsize=6.0, ysize=6.6, gap=19, pad=1),
    3: dict(xfam='Liberation Sans', xsize=7.9, tsize=5.6, ysize=6.3, gap=19, pad=1),
}

W, H = 755, 864
fig = plt.figure(figsize=(W / 100, H / 100), dpi=100)
snug = []

for box, y, fit, lo, hi, color, ylabel, ylim, yticks, fmt in panels:
    left, top, right, bottom = box
    row = 0 if top < 100 else 1 if top < 400 else 2 if top < 640 else 3
    st = row_text[row]
    ax = fig.add_axes([left / W, 1 - bottom / H, (right - left) / W, (bottom - top) / H])
    ax.fill_between(fit_x, lo, hi, facecolor=to_rgba(color, 0.5), edgecolor=color, linewidth=0.6, zorder=1)
    ax.scatter(ts_ratio, y, s=7, color='black', alpha=0.6, linewidths=0, zorder=2)
    ax.plot(fit_x, fit, color=color, lw=1.0, zorder=3)

    ax.set_xlim(*((1.067, 1.89) if row == 3 else (1.063, 1.868)))
    ax.set_ylim(*ylim)
    ax.set_xticks([1.2, 1.4, 1.6, 1.8])
    ax.set_yticks(yticks)
    ax.yaxis.set_major_formatter(FormatStrFormatter(fmt))
    ax.xaxis.set_minor_locator(AutoMinorLocator(2))
    ax.yaxis.set_minor_locator(AutoMinorLocator(2))
    ax.grid(True, which='major', color='#ebebeb', lw=0.6, zorder=0)
    ax.grid(True, which='minor', color='#f2f2f2', lw=0.35, zorder=0)
    ax.set_axisbelow(True)
    for s in ax.spines.values():
        s.set_color('#a6a6a6')
        s.set_linewidth(0.8)
    ax.tick_params(which='major', length=1.5, width=0.5, color='#808080', labelsize=st['tsize'],
                   labelcolor='#4d4d4d', pad=st['pad'])
    ax.tick_params(which='minor', length=0)
    for lbl in ax.get_xticklabels() + ax.get_yticklabels():
        lbl.set_fontfamily(st['xfam'] if row < 2 else 'Liberation Sans')
    ax.set_xlabel('T/S ratio - year 1', fontsize=st['xsize'], family=st['xfam'], labelpad=0.5)
    ax.set_ylabel(ylabel, fontsize=st['ysize'], linespacing=1.0)
    if st['gap'] is None:
        snug.append(ax)
    else:
        ax.yaxis.set_label_coords(-st['gap'] / (right - left), 0.5)

# top two rows: the y title sits right against the tick labels
fig.canvas.draw()
renderer = fig.canvas.get_renderer()
for ax in snug:
    x0 = min(t.get_window_extent(renderer).x0 for t in ax.get_yticklabels() if t.get_text())
    ax.yaxis.set_label_coords((x0 - 0.3 - ax.bbox.x0) / ax.bbox.width, 0.5)

fig.savefig('out.png', dpi=100)
